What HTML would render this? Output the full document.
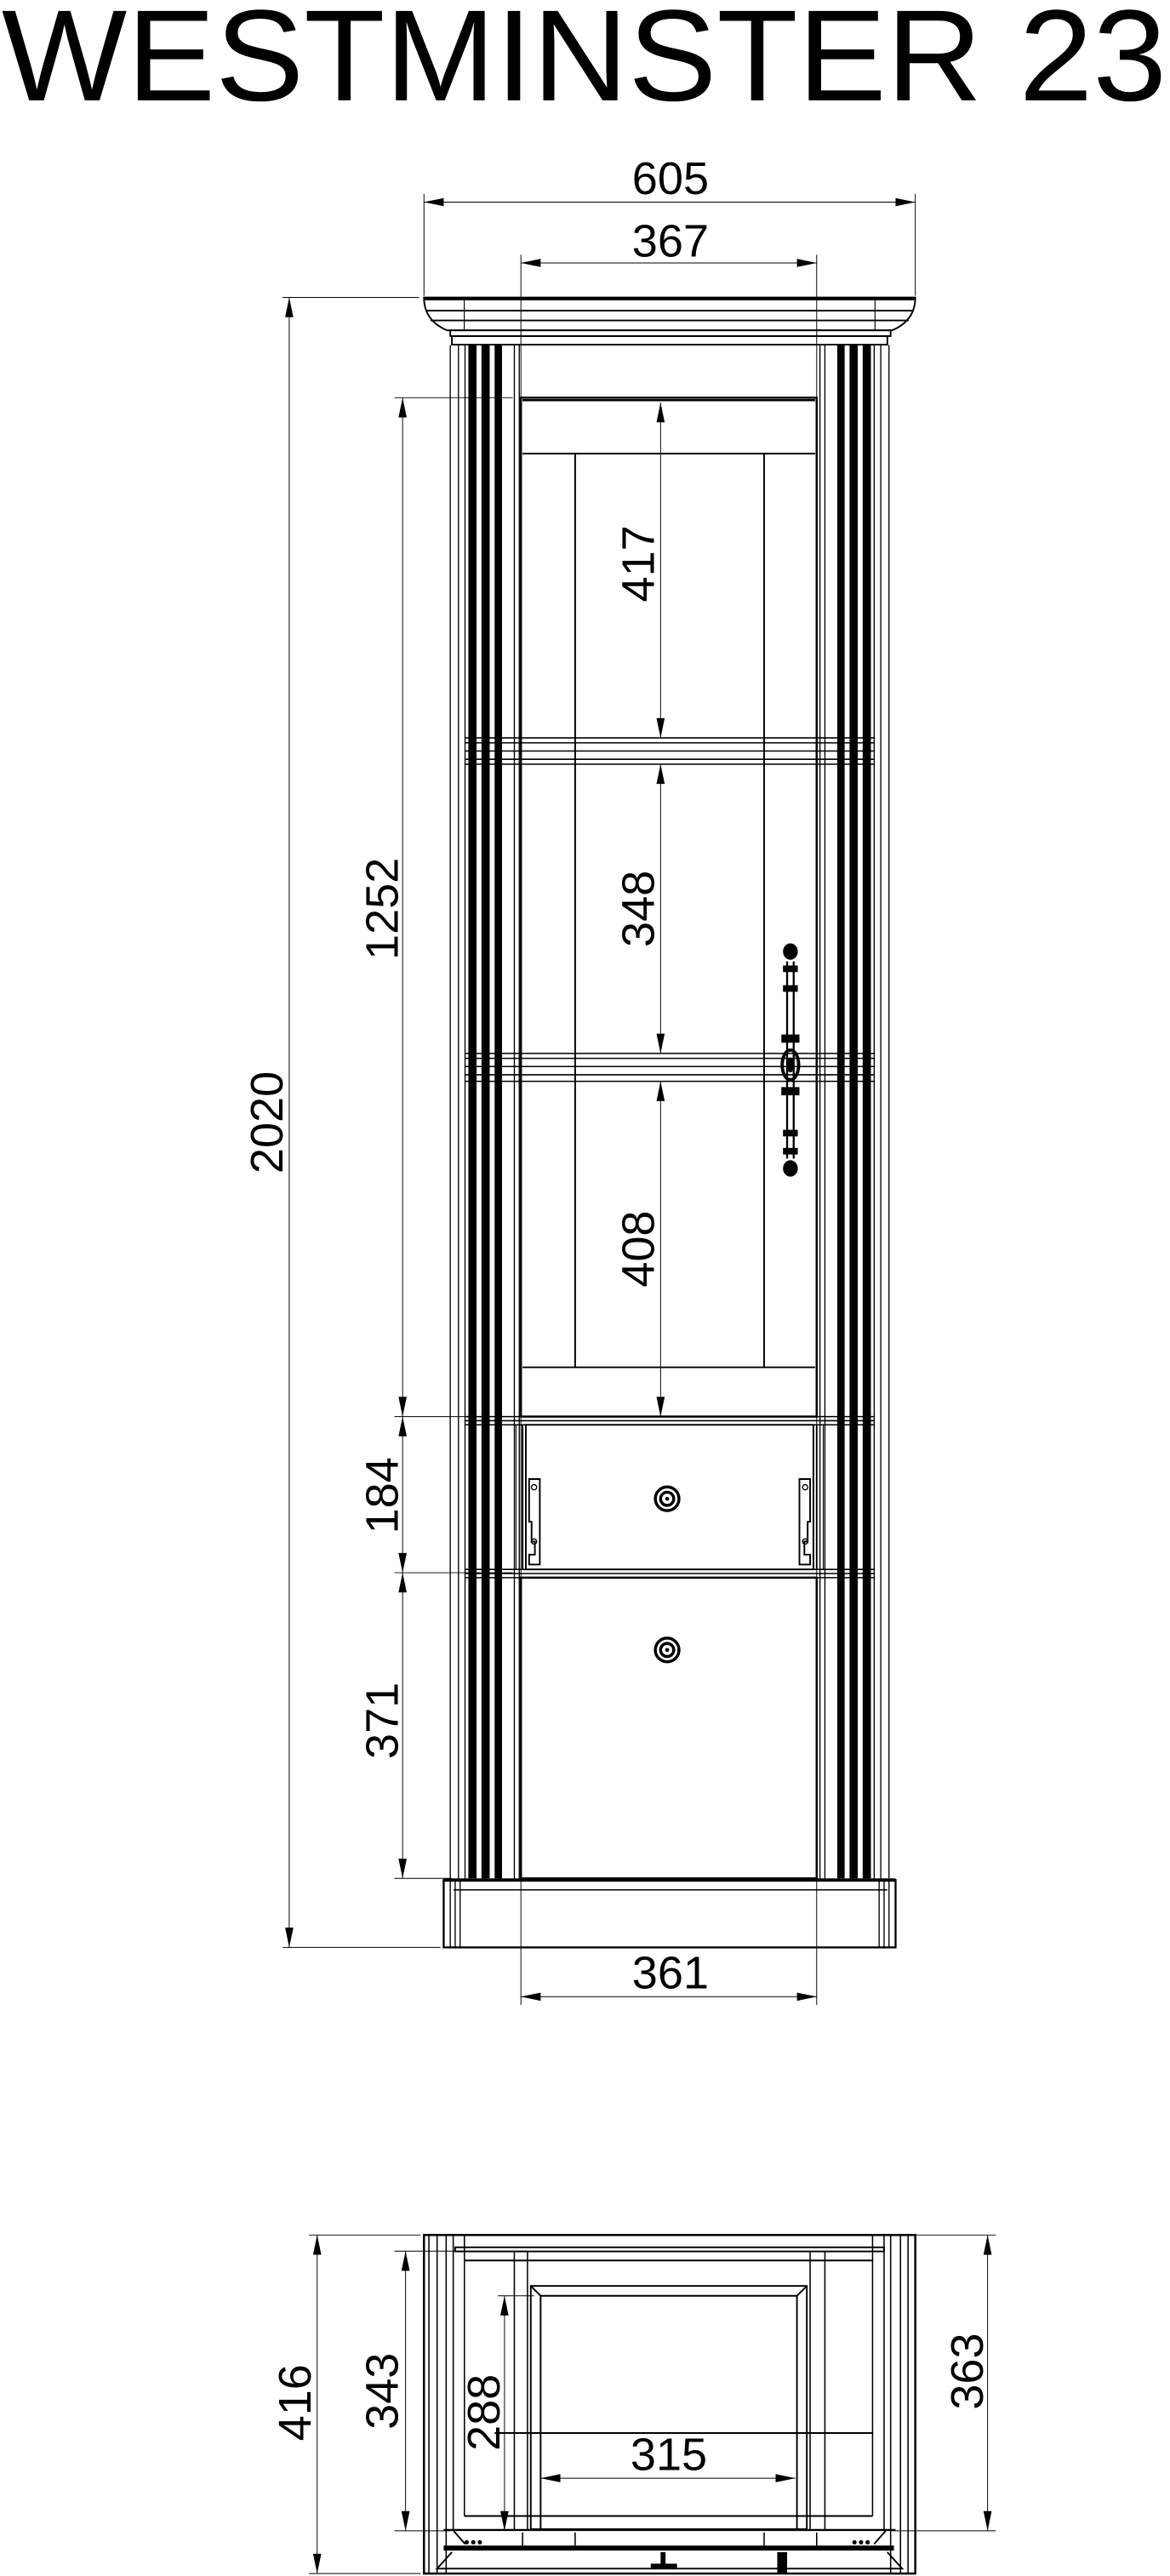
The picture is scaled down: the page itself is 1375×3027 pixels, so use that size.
<!DOCTYPE html>
<html><head><meta charset="utf-8"><style>html,body{margin:0;padding:0;background:#fff}svg{display:block}</style></head>
<body>
<svg width="1375" height="3027" viewBox="0 0 712 1567.5" xmlns="http://www.w3.org/2000/svg" font-family="Liberation Sans, sans-serif">
<rect width="712" height="1567.5" fill="#fff"/>
<text x="1" y="61" font-size="79" textLength="709" lengthAdjust="spacingAndGlyphs">WESTMINSTER 23</text>
<g stroke="#000" fill="none" stroke-width="0.5">
<line x1="258" y1="118" x2="258" y2="180"/><line x1="557" y1="118" x2="557" y2="180"/>
<line x1="258" y1="123" x2="557" y2="123"/>
<line x1="317" y1="155" x2="317" y2="1220"/><line x1="497" y1="155" x2="497" y2="1220"/>
<line x1="317" y1="160" x2="497" y2="160"/>
<line x1="317" y1="1215" x2="497" y2="1215"/>
<line x1="172" y1="181" x2="255" y2="181"/><line x1="172" y1="1185" x2="268" y2="1185"/>
<line x1="176" y1="181" x2="176" y2="1185"/>
<line x1="240" y1="242" x2="312" y2="242"/>
<line x1="245" y1="242" x2="245" y2="1143"/>
<line x1="240" y1="862" x2="312" y2="862"/><line x1="240" y1="957" x2="312" y2="957"/><line x1="240" y1="1143" x2="275" y2="1143"/>
<line x1="402" y1="245" x2="402" y2="449"/><line x1="402" y1="465" x2="402" y2="641"/><line x1="402" y1="658" x2="402" y2="862"/>
</g>
<g fill="#000">
<polygon points="258,123 270,120.5 270,125.5"/><polygon points="557,123 545,120.5 545,125.5"/>
<polygon points="317,160 329,157.5 329,162.5"/><polygon points="497,160 485,157.5 485,162.5"/>
<polygon points="317,1215 329,1212.5 329,1217.5"/><polygon points="497,1215 485,1212.5 485,1217.5"/>
<polygon points="176,181 173.5,193 178.5,193"/><polygon points="176,1185 173.5,1173 178.5,1173"/>
<polygon points="245,242 242.5,254 247.5,254"/><polygon points="245,862 242.5,850 247.5,850"/>
<polygon points="245,862 242.5,874 247.5,874"/><polygon points="245,957 242.5,945 247.5,945"/>
<polygon points="245,957 242.5,969 247.5,969"/><polygon points="245,1143 242.5,1131 247.5,1131"/>
<polygon points="402,245 399.5,257 404.5,257"/><polygon points="402,449 399.5,437 404.5,437"/>
<polygon points="402,465 399.5,477 404.5,477"/><polygon points="402,641 399.5,629 404.5,629"/>
<polygon points="402,658 399.5,670 404.5,670"/><polygon points="402,862 399.5,850 404.5,850"/>
</g>
<g font-size="28" text-anchor="middle" fill="#000">
<text x="408" y="118">605</text>
<text x="408" y="156">367</text>
<text x="408" y="1210">361</text>
<text transform="translate(172,683) rotate(-90)">2020</text>
<text transform="translate(242,553) rotate(-90)">1252</text>
<text transform="translate(242,910) rotate(-90)">184</text>
<text transform="translate(242,1047) rotate(-90)">371</text>
<text transform="translate(398,343) rotate(-90)">417</text>
<text transform="translate(398,553) rotate(-90)">348</text>
<text transform="translate(398,760) rotate(-90)">408</text>
</g>
<g stroke="#000" fill="none">
<path d="M258,181 L557,181 Q557,195 543,201 L272,201 Q258,195 258,181 Z" stroke-width="1"/>
<line x1="258" y1="182" x2="557" y2="182" stroke-width="1.5"/>
<line x1="259" y1="189" x2="556" y2="189" stroke-width="1"/>
<line x1="262" y1="195" x2="553" y2="195" stroke-width="1"/>
<line x1="282.5" y1="181" x2="282.5" y2="201" stroke-width="0.6"/><line x1="532.5" y1="181" x2="532.5" y2="201" stroke-width="0.6"/>
<rect x="274" y="201" width="268" height="3.5" stroke-width="1"/>
<rect x="275" y="204.5" width="265" height="5.2" stroke-width="1"/>
</g>
<g stroke="#000" fill="none" stroke-width="0.7">
<line x1="274" y1="210" x2="274" y2="1143"/><line x1="279" y1="210" x2="279" y2="1143"/><line x1="283" y1="210" x2="283" y2="1143"/>
<line x1="313" y1="210" x2="313" y2="1143"/><line x1="316" y1="210" x2="316" y2="1143"/>
<line x1="541" y1="210" x2="541" y2="1143"/><line x1="536" y1="210" x2="536" y2="1143"/><line x1="532" y1="210" x2="532" y2="1143"/>
<line x1="502" y1="210" x2="502" y2="1143"/><line x1="499" y1="210" x2="499" y2="1143"/>
</g>
<g fill="#000">
<rect x="285" y="210" width="5" height="933"/><rect x="293" y="210" width="5" height="933"/><rect x="301" y="210" width="4.5" height="933"/>
<rect x="525" y="210" width="5" height="933"/><rect x="517" y="210" width="5" height="933"/><rect x="509.5" y="210" width="4.5" height="933"/>
</g>
<g stroke="#000" fill="none">
<rect x="317" y="242" width="180" height="620" stroke-width="1.3"/>
<line x1="318" y1="243.5" x2="496" y2="243.5" stroke-width="1.3"/>
<line x1="318" y1="276" x2="496" y2="276" stroke-width="1"/>
<line x1="318" y1="832" x2="496" y2="832" stroke-width="1"/>
<line x1="350" y1="276" x2="350" y2="832" stroke-width="1"/><line x1="465" y1="276" x2="465" y2="832" stroke-width="1"/>
<g stroke-width="0.8">
<line x1="283" y1="449" x2="532" y2="449"/><line x1="283" y1="452" x2="532" y2="452"/><line x1="283" y1="457" x2="532" y2="457"/><line x1="283" y1="462" x2="532" y2="462"/><line x1="283" y1="465" x2="532" y2="465"/>
<line x1="283" y1="641" x2="532" y2="641"/><line x1="283" y1="644" x2="532" y2="644"/><line x1="283" y1="649" x2="532" y2="649"/><line x1="283" y1="654" x2="532" y2="654"/><line x1="283" y1="658" x2="532" y2="658"/>
<line x1="283" y1="862" x2="532" y2="862"/><line x1="283" y1="864.5" x2="532" y2="864.5"/><line x1="283" y1="867" x2="532" y2="867"/>
<line x1="283" y1="955" x2="532" y2="955"/><line x1="283" y1="957.5" x2="532" y2="957.5"/><line x1="283" y1="960" x2="532" y2="960"/>
</g>
<rect x="320" y="867" width="175" height="88" stroke-width="1"/>
<line x1="318" y1="867" x2="318" y2="955" stroke-width="1"/><line x1="497" y1="867" x2="497" y2="955" stroke-width="1"/>
<line x1="314" y1="867" x2="314" y2="955" stroke-width="0.6"/><line x1="501" y1="867" x2="501" y2="955" stroke-width="0.6"/>
<path d="M322,900 h6.5 v52 h-6.5 v-6 h3.5 v-8 h-2 v-12 h-1.5 z" stroke-width="1"/>
<circle cx="325" cy="905" r="1.6" stroke-width="0.7"/><circle cx="325" cy="938" r="1.6" stroke-width="0.7"/>
<path d="M493,900 h-6.5 v52 h6.5 v-6 h-3.5 v-8 h2 v-12 h1.5 z" stroke-width="1"/>
<circle cx="490" cy="905" r="1.6" stroke-width="0.7"/><circle cx="490" cy="938" r="1.6" stroke-width="0.7"/>
<circle cx="406" cy="912" r="7.2" stroke-width="1.8"/><circle cx="406" cy="912" r="4" stroke-width="1.8"/>
<rect x="317" y="960" width="180" height="183" stroke-width="1.3"/>
<circle cx="406" cy="1004" r="7.2" stroke-width="1.8"/><circle cx="406" cy="1004" r="4" stroke-width="1.8"/>
<rect x="270" y="1144" width="275" height="41" stroke-width="1.2"/>
<line x1="270" y1="1144" x2="545" y2="1144" stroke-width="2"/>
<line x1="276" y1="1150" x2="540" y2="1150" stroke-width="0.8"/>
<line x1="274" y1="1144" x2="274" y2="1185" stroke-width="0.7"/><line x1="277" y1="1144" x2="277" y2="1185" stroke-width="0.7"/><line x1="280" y1="1144" x2="280" y2="1185" stroke-width="0.7"/>
<line x1="541" y1="1144" x2="541" y2="1185" stroke-width="0.7"/><line x1="538" y1="1144" x2="538" y2="1185" stroke-width="0.7"/><line x1="535" y1="1144" x2="535" y2="1185" stroke-width="0.7"/>
</g>
<circle cx="406" cy="912" r="1.2" fill="#000"/><circle cx="406" cy="1004" r="1.2" fill="#000"/>
<g stroke="#000" fill="none" stroke-width="1">
<line x1="479" y1="585" x2="479" y2="705" stroke-width="1.2"/><line x1="483" y1="585" x2="483" y2="705" stroke-width="1.2"/>
<ellipse cx="481" cy="579" rx="4" ry="4.5" fill="#000"/>
<ellipse cx="481" cy="711" rx="4" ry="4.5" fill="#000"/>
<rect x="477" y="588" width="8" height="3" fill="#000"/><rect x="477" y="600" width="8" height="3" fill="#000"/>
<rect x="477" y="688" width="8" height="3" fill="#000"/><rect x="477" y="699" width="8" height="3" fill="#000"/>
<rect x="476" y="630" width="10" height="4" fill="#000"/><rect x="476" y="662" width="10" height="4" fill="#000"/>
<ellipse cx="481" cy="648" rx="5" ry="9" stroke-width="2"/>
<ellipse cx="481" cy="648" rx="2" ry="4" fill="#000"/>
</g>
<g stroke="#000" fill="none" stroke-width="0.8">
<rect x="258" y="1360" width="299" height="206" stroke-width="1.3"/>
<line x1="261" y1="1360" x2="261" y2="1566"/><line x1="266" y1="1360" x2="266" y2="1566"/><line x1="271.5" y1="1360" x2="271.5" y2="1566"/><line x1="275.8" y1="1360" x2="275.8" y2="1540"/>
<line x1="282.6" y1="1360" x2="282.6" y2="1531"/>
<line x1="531" y1="1360" x2="531" y2="1531"/><line x1="538" y1="1360" x2="538" y2="1540"/><line x1="542" y1="1360" x2="542" y2="1566"/><line x1="548" y1="1360" x2="548" y2="1566"/><line x1="552.6" y1="1360" x2="552.6" y2="1566"/>
<rect x="277" y="1367.5" width="261" height="2.5" stroke-width="1"/>
<line x1="282.6" y1="1375.5" x2="531" y2="1375.5" stroke-width="1"/>
<line x1="313" y1="1370" x2="313" y2="1539"/><line x1="321" y1="1370" x2="321" y2="1539"/>
<line x1="493" y1="1370" x2="493" y2="1539"/><line x1="502" y1="1370" x2="502" y2="1539"/>
<rect x="323" y="1391" width="168" height="148" stroke-width="1"/>
<path d="M323,1391 L329,1397 L485,1397 L491,1391 M329,1397 L329,1539 M485,1397 L485,1539" stroke-width="1"/>
<line x1="301" y1="1480.5" x2="531" y2="1480.5" stroke-width="1"/>
<line x1="282.6" y1="1531" x2="531" y2="1531" stroke-width="1"/>
<line x1="270" y1="1539.5" x2="545" y2="1539.5" stroke-width="1.2"/>
<line x1="270" y1="1550.5" x2="544" y2="1550.5" stroke-width="3"/>
<path d="M276,1540 L283,1548 M539,1540 L532,1548 M275,1553 L266,1563 L549,1563 L540,1553" stroke-width="1"/>
<line x1="318" y1="1541" x2="318" y2="1549"/><line x1="350" y1="1541" x2="350" y2="1549"/><line x1="465" y1="1541" x2="465" y2="1549"/><line x1="497" y1="1541" x2="497" y2="1549"/>
</g>
<g fill="#000">
<rect x="396" y="1560" width="16" height="3"/><rect x="402" y="1553" width="3" height="8"/>
<rect x="473" y="1553" width="6" height="13"/>
<circle cx="284" cy="1547" r="1.3"/><circle cx="288" cy="1547" r="1.3"/><circle cx="292" cy="1547" r="1.3"/>
<circle cx="520" cy="1547" r="1.3"/><circle cx="524" cy="1547" r="1.3"/><circle cx="528" cy="1547" r="1.3"/>
</g>
<g stroke="#000" fill="none" stroke-width="0.5">
<line x1="188" y1="1360" x2="256" y2="1360"/><line x1="188" y1="1566" x2="256" y2="1566"/>
<line x1="193" y1="1360" x2="193" y2="1566"/>
<line x1="240" y1="1369.8" x2="321" y2="1369.8"/><line x1="240" y1="1540" x2="274" y2="1540"/>
<line x1="246.8" y1="1369.8" x2="246.8" y2="1540"/>
<line x1="303" y1="1397" x2="325" y2="1397"/>
<line x1="307" y1="1397" x2="307" y2="1540"/>
<line x1="329" y1="1508" x2="484" y2="1508"/>
<line x1="557" y1="1360" x2="606" y2="1360"/><line x1="543" y1="1540" x2="606" y2="1540"/>
<line x1="601" y1="1360" x2="601" y2="1540"/>
</g>
<g fill="#000">
<polygon points="193,1360 190.5,1372 195.5,1372"/><polygon points="193,1566 190.5,1554 195.5,1554"/>
<polygon points="246.8,1369.8 244.3,1381.8 249.3,1381.8"/><polygon points="246.8,1540 244.3,1528 249.3,1528"/>
<polygon points="307,1397 304.5,1409 309.5,1409"/><polygon points="307,1540 304.5,1528 309.5,1528"/>
<polygon points="329,1508 341,1505.5 341,1510.5"/><polygon points="484,1508 472,1505.5 472,1510.5"/>
<polygon points="601,1360 598.5,1372 603.5,1372"/><polygon points="601,1540 598.5,1528 603.5,1528"/>
</g>
<g font-size="28" text-anchor="middle" fill="#000">
<text x="407" y="1503">315</text>
<text transform="translate(189,1462) rotate(-90)">416</text>
<text transform="translate(242,1455) rotate(-90)">343</text>
<text transform="translate(304,1468) rotate(-90)">288</text>
<text transform="translate(598,1443) rotate(-90)">363</text>
</g>
</svg>
</body></html>
